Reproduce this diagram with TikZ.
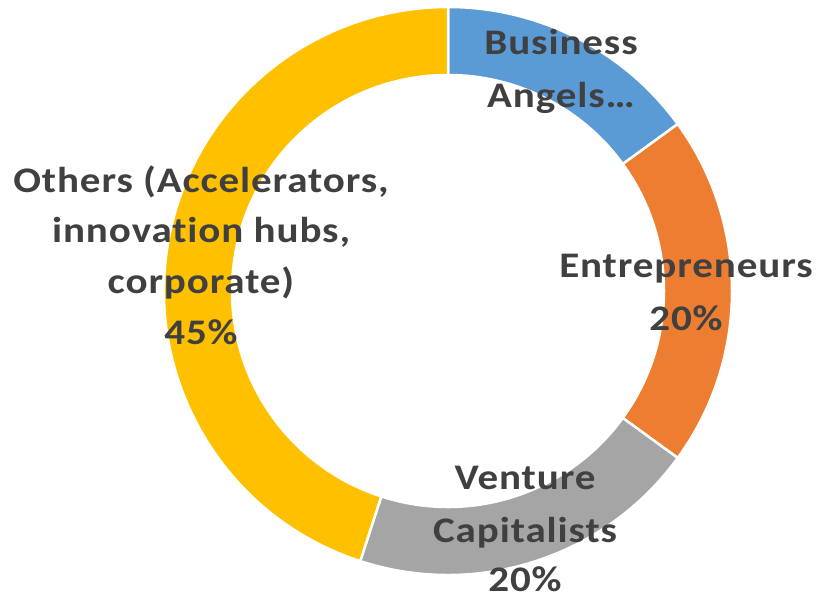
\documentclass[tikz,border=0pt]{standalone}
\usepackage{fontspec}
\setmainfont{Carlito}[FakeStretch=1.14,LetterSpace=2.5,Ligatures=NoCommon]
\definecolor{cblue}{HTML}{5B9BD5}
\definecolor{corange}{HTML}{ED7D31}
\definecolor{cgray}{HTML}{A5A5A5}
\definecolor{cyellow}{HTML}{FFC000}
\definecolor{ctext}{HTML}{404040}
\begin{document}
\begin{tikzpicture}[x=1pt,y=1pt,
  seg/.style={draw=white,line width=2.5pt,line join=miter},
  lbl/.style={anchor=base,inner sep=0pt,text=ctext,font=\fontsize{36}{36}\selectfont\bfseries}]
\useasboundingbox (0,0) rectangle (816,597);
\def\Ro{284}\def\Ri{216}
\begin{scope}[shift={(448,306)}]
\filldraw[seg,fill=cblue] (90:\Ro) arc[start angle=90,end angle=36,radius=\Ro] -- (36:\Ri) arc[start angle=36,end angle=90,radius=\Ri] -- cycle;
\filldraw[seg,fill=corange] (36:\Ro) arc[start angle=36,end angle=-36,radius=\Ro] -- (-36:\Ri) arc[start angle=-36,end angle=36,radius=\Ri] -- cycle;
\filldraw[seg,fill=cgray] (-36:\Ro) arc[start angle=-36,end angle=-108,radius=\Ro] -- (-108:\Ri) arc[start angle=-108,end angle=-36,radius=\Ri] -- cycle;
\filldraw[seg,fill=cyellow] (-108:\Ro) arc[start angle=-108,end angle=-270,radius=\Ro] -- (90:\Ri) arc[start angle=-270,end angle=-108,radius=\Ri] -- cycle;
\end{scope}
% labels (baselines from image rows)
\node[lbl] (ba1) at (561,597-55) {Business};
\node[lbl] (ba2) at (561,597-108) {Angels…};
\node[lbl] (en1) at (686,597-278) {Entrepreneurs};
\node[lbl] (en2) at (686,597-331) {20\%};
\node[lbl] (vc1) at (525,597-490) {Venture};
\node[lbl] (vc2) at (525,597-542) {Capitalists};
\node[lbl] (vc3) at (525,597-591) {20\%};
\node[lbl] (ot1) at (201,597-193) {Others (Accelerators,};
\node[lbl] (ot2) at (201,597-243) {innovation hubs,};
\node[lbl] (ot3) at (201,597-294) {corporate)};
\node[lbl] (ot4) at (201,597-345) {45\%};
\end{tikzpicture}
\end{document}
